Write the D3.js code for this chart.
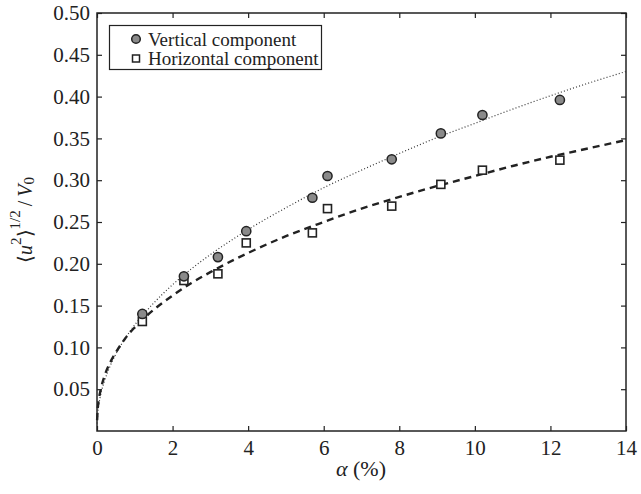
<!DOCTYPE html>
<html>
<head>
<meta charset="utf-8">
<script src="https://cdn.jsdelivr.net/npm/d3@7"></script>
<style>
  html, body { margin: 0; padding: 0; background: #fff; }
  svg { display: block; }
  svg text { font-family: "Liberation Serif", "Times New Roman", serif; fill: #222; }
</style>
</head>
<body>
<svg id="chart" width="641" height="494"></svg>
<script>
// Measured void fraction (%) for each run
const alpha = [1.2, 2.3, 3.2, 3.95, 5.7, 6.1, 7.8, 9.1, 10.2, 12.25];
// Normalised rms velocity fluctuations
const verticalRms   = [0.140, 0.185, 0.208, 0.239, 0.279, 0.305, 0.325, 0.356, 0.378, 0.396];
const horizontalRms = [0.131, 0.180, 0.188, 0.225, 0.237, 0.266, 0.269, 0.295, 0.312, 0.324];

// Fitted trend curves
const fitAlpha      = [0.003, 0.02, 0.05, 0.1, 0.2, 0.35, 0.5, 0.75, 1, 1.5, 2, 2.5, 3, 4, 5, 6, 7, 8, 9, 10, 11, 12, 13, 14];
const verticalFit   = [0.009, 0.021, 0.032, 0.044, 0.060, 0.078, 0.092, 0.111, 0.127, 0.153, 0.175, 0.194, 0.211, 0.241, 0.267, 0.291, 0.312, 0.332, 0.351, 0.368, 0.385, 0.401, 0.416, 0.430];
const horizontalFit = [0.013, 0.027, 0.038, 0.050, 0.066, 0.082, 0.094, 0.111, 0.124, 0.145, 0.162, 0.177, 0.190, 0.213, 0.233, 0.250, 0.266, 0.280, 0.293, 0.305, 0.317, 0.328, 0.338, 0.348];

const xTicks = [0, 2, 4, 6, 8, 10, 12, 14];
const yTicks = [0.05, 0.10, 0.15, 0.20, 0.25, 0.30, 0.35, 0.40, 0.45, 0.50];
const legendLabels = ["Vertical component", "Horizontal component"];

const svg = d3.select("#chart");
const m = { left: 97, top: 13, right: 626, bottom: 431 };
const ink = "#222";
const serif = "'Liberation Serif', 'Times New Roman', serif";

const x = d3.scaleLinear().domain([0, 14]).range([m.left, m.right]);
const y = d3.scaleLinear().domain([0, 0.5]).range([m.bottom, m.top]);

// Axes with inward ticks on all four sides
function styleAxis(g) {
  g.attr("font-family", null).attr("font-size", null);
  g.selectAll("path.domain").remove();
  g.selectAll(".tick line").attr("stroke", ink).attr("stroke-width", 1.2);
  g.selectAll(".tick text").style("font-family", serif).style("font-size", "21px")
    .attr("fill", ink);
}
svg.append("g").attr("transform", `translate(0,${m.bottom})`)
  .call(d3.axisBottom(x).tickValues(xTicks).tickFormat(d3.format("d"))
        .tickSizeInner(-5).tickSizeOuter(0).tickPadding(9))
  .call(styleAxis);
svg.append("g").attr("transform", `translate(0,${m.top})`)
  .call(d3.axisTop(x).tickValues(xTicks).tickFormat("")
        .tickSizeInner(-5).tickSizeOuter(0))
  .call(styleAxis);
svg.append("g").attr("transform", `translate(${m.left},0)`)
  .call(d3.axisLeft(y).tickValues(yTicks).tickFormat(d3.format(".2f"))
        .tickSizeInner(-5).tickSizeOuter(0).tickPadding(7))
  .call(styleAxis);
svg.append("g").attr("transform", `translate(${m.right},0)`)
  .call(d3.axisRight(y).tickValues(yTicks).tickFormat("")
        .tickSizeInner(-5).tickSizeOuter(0))
  .call(styleAxis);

// Plot frame
svg.append("rect")
  .attr("x", m.left).attr("y", m.top)
  .attr("width", m.right - m.left).attr("height", m.bottom - m.top)
  .attr("fill", "none").attr("stroke", ink).attr("stroke-width", 1.5);

// Trend curves
const line = d3.line().x(d => x(d[0])).y(d => y(d[1])).curve(d3.curveMonotoneX);
svg.append("path")
  .datum(fitAlpha.map((a, i) => [a, verticalFit[i]]))
  .attr("d", line).attr("fill", "none")
  .attr("stroke", "#333").attr("stroke-width", 1.2).attr("stroke-dasharray", "1,2.2");
svg.append("path")
  .datum(fitAlpha.map((a, i) => [a, horizontalFit[i]]))
  .attr("d", line).attr("fill", "none")
  .attr("stroke", ink).attr("stroke-width", 2.4).attr("stroke-dasharray", "7,5");

// Measured points
const sq = 8;
svg.append("g").selectAll("rect")
  .data(alpha.map((a, i) => [a, horizontalRms[i]]))
  .join("rect")
  .attr("x", d => x(d[0]) - sq / 2).attr("y", d => y(d[1]) - sq / 2)
  .attr("width", sq).attr("height", sq)
  .attr("fill", "#fff").attr("stroke", ink).attr("stroke-width", 1.6);
svg.append("g").selectAll("circle")
  .data(alpha.map((a, i) => [a, verticalRms[i]]))
  .join("circle")
  .attr("cx", d => x(d[0])).attr("cy", d => y(d[1])).attr("r", 4.6)
  .attr("fill", "#8a8a8a").attr("stroke", ink).attr("stroke-width", 1.5);

// Legend
const lg = svg.append("g");
lg.append("rect").attr("x", 109.5).attr("y", 25.5).attr("width", 212).attr("height", 44)
  .attr("fill", "#fff").attr("stroke", ink).attr("stroke-width", 1.2);
lg.append("circle").attr("cx", 136).attr("cy", 39).attr("r", 4.3)
  .attr("fill", "#8a8a8a").attr("stroke", ink).attr("stroke-width", 1.5);
lg.append("rect").attr("x", 132.5).attr("y", 55).attr("width", 7).attr("height", 7)
  .attr("fill", "#fff").attr("stroke", ink).attr("stroke-width", 1.5);
lg.selectAll("text.lbl").data(legendLabels).join("text").attr("class", "lbl")
  .attr("x", 148).attr("y", (d, i) => 45.5 + i * 19.5)
  .style("font-size", "19px").text(d => d);

// Axis titles
const xl = svg.append("text").attr("x", 361).attr("y", 476)
  .attr("text-anchor", "middle").style("font-size", "22px");
xl.append("tspan").attr("font-style", "italic").text("α");
xl.append("tspan").text(" (%)");

const yl = svg.append("text")
  .attr("transform", "translate(32,220) rotate(-90)")
  .attr("text-anchor", "middle").style("font-size", "20px");
yl.append("tspan").text("⟨");
yl.append("tspan").attr("font-style", "italic").text("u");
yl.append("tspan").style("font-size", "15px").attr("dy", -11).text("2");
yl.append("tspan").attr("dy", 11).text("⟩");
yl.append("tspan").style("font-size", "15px").attr("dy", -12).text("1/2");
yl.append("tspan").attr("dy", 12).text("\u2009/\u2009");
yl.append("tspan").attr("font-style", "italic").text("V");
yl.append("tspan").style("font-size", "15px").attr("dy", 2).text("0");
</script>
</body>
</html>
